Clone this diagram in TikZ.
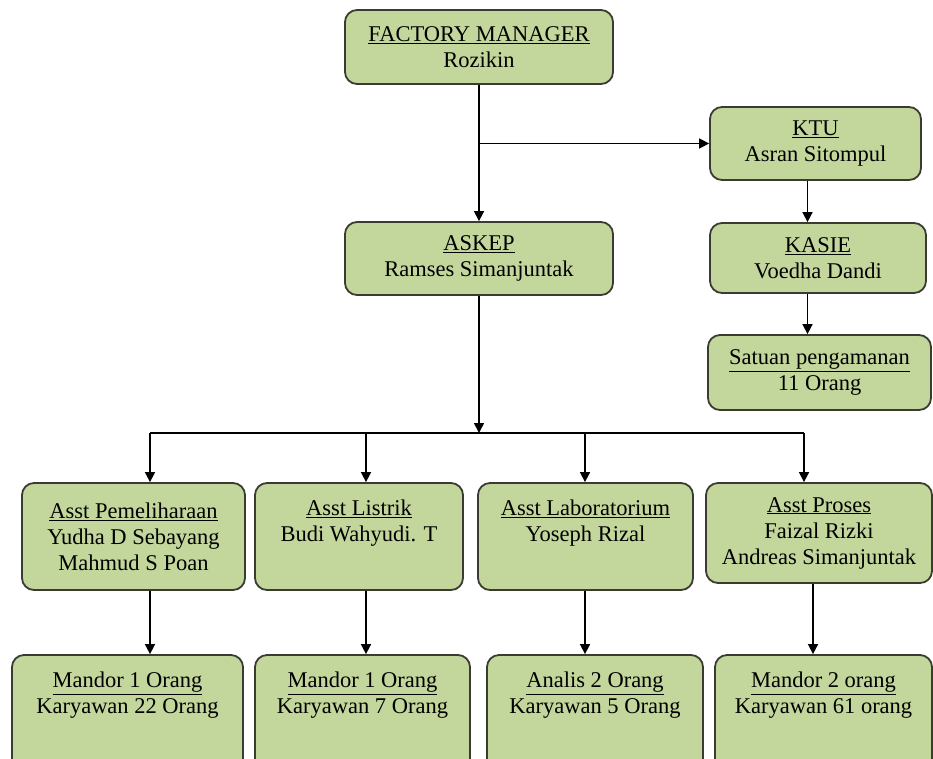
\documentclass[tikz,border=0pt]{standalone}
\usepackage{fontspec}
\setmainfont{Liberation Serif}
\usepackage{xcolor}
\definecolor{boxgreen}{RGB}{195,214,155}
\definecolor{boxedge}{RGB}{58,60,50}
\usepackage{tikz}
\usetikzlibrary{positioning}
\usetikzlibrary{arrows.meta}
\newcommand{\jabatan}[1]{\underline{#1}}
\tikzset{
    txt/.style={align=center, inner sep=0pt, font=\fontsize{22.5}{26}\selectfont},
    post/.style={txt, draw=boxedge, line width=1.8pt, fill=boxgreen, rounded corners=12pt},
    boxsize/.style 2 args={minimum width=#1, minimum height=#2},
    caption/.style={txt},
    link/.style={-{Triangle[length=10pt,width=10pt]}, line width=1.6pt},
    bus/.style={line width=1.6pt}
}

\begin{document}
\begin{tikzpicture}[x=1pt, y=-1pt]
    \clip (0,0) rectangle (933,758);
    % top part
    \node[post, boxsize={268pt}{74pt}] (fm) at (479,47) {\jabatan{FACTORY MANAGER}\\Rozikin};
    \node[post, boxsize={211pt}{73pt}] (ktu) at (815.5,143.5) {\jabatan{KTU}\\Asran Sitompul};
    \node[post, boxsize={268pt}{73pt}] (askep) at (479,258.5) {\jabatan{ASKEP}\\Ramses Simanjuntak};
    \node[post, boxsize={216pt}{70pt}] (kasie) at (818,258) {\jabatan{KASIE}\\Voedha Dandi};
    \node[post, boxsize={223pt}{75pt}] (satpam) at (819.5,372.5) {\jabatan{Satuan pengamanan}\\11 Orang};

    % assistants
    \node[post, boxsize={223pt}{107pt}] (pem) at (133.5,536.5) {\jabatan{Asst Pemeliharaan}\\Yudha D Sebayang\\Mahmud S Poan};
    \node[post, boxsize={208pt}{107pt}] (lis) at (359,536.5) {};
    \node[caption, below=18pt of lis.north] (lis-t) {\jabatan{Asst Listrik}\\Budi Wahyudi. T};
    \node[post, boxsize={215pt}{107pt}] (lab) at (585.5,536.5) {};
    \node[caption, below=18pt of lab.north] (lab-t) {\jabatan{Asst Laboratorium}\\Yoseph Rizal};
    \node[post, boxsize={226pt}{100pt}] (pro) at (819,533) {\jabatan{Asst Proses}\\Faizal Rizki\\Andreas Simanjuntak};

    % crews
    \node[post, boxsize={231pt}{120pt}] (m1) at (127.5,715) {};
    \node[caption, below=18pt of m1.north] (m1-t) {\jabatan{Mandor 1 Orang}\\Karyawan 22 Orang};
    \node[post, boxsize={215pt}{120pt}] (m2) at (362.5,715) {};
    \node[caption, below=18pt of m2.north] (m2-t) {\jabatan{Mandor 1 Orang}\\Karyawan 7 Orang};
    \node[post, boxsize={216pt}{120pt}] (analis) at (595,715) {};
    \node[caption, below=18pt of analis.north] (analis-t) {\jabatan{Analis 2 Orang}\\Karyawan 5 Orang};
    \node[post, boxsize={217pt}{120pt}] (m4) at (823.5,715) {};
    \node[caption, below=18pt of m4.north] (m4-t) {\jabatan{Mandor 2 orang}\\Karyawan 61 orang};

    \coordinate (kx) at ([xshift=-8pt]ktu.south);
    \coordinate (d1) at (150,433);
    \coordinate (d2) at (366,433);
    \coordinate (d3) at (585,433);
    \coordinate (d4) at (804,433);
    \coordinate (d4m) at (813,433);

    \draw[link] (fm) -- (askep);
    \draw[link] (fm.south |- ktu.west) -- (ktu.west);
    \draw[link] (kx) -- (kx |- kasie.north);
    \draw[link] (kx |- kasie.south) -- (kx |- satpam.north);
    \draw[link] (askep) -- (askep |- d1);
    \draw[bus] (d1) -- (d4);
    \foreach \d/\a in {d1/pem, d2/lis, d3/lab, d4/pro}
        \draw[link] (\d) -- (\d |- \a.north);
    \foreach \d/\a/\m in {d1/pem/m1, d2/lis/m2, d3/lab/analis, d4m/pro/m4}
        \draw[link] (\d |- \a.south) -- (\d |- \m.north);
\end{tikzpicture}
\end{document}
